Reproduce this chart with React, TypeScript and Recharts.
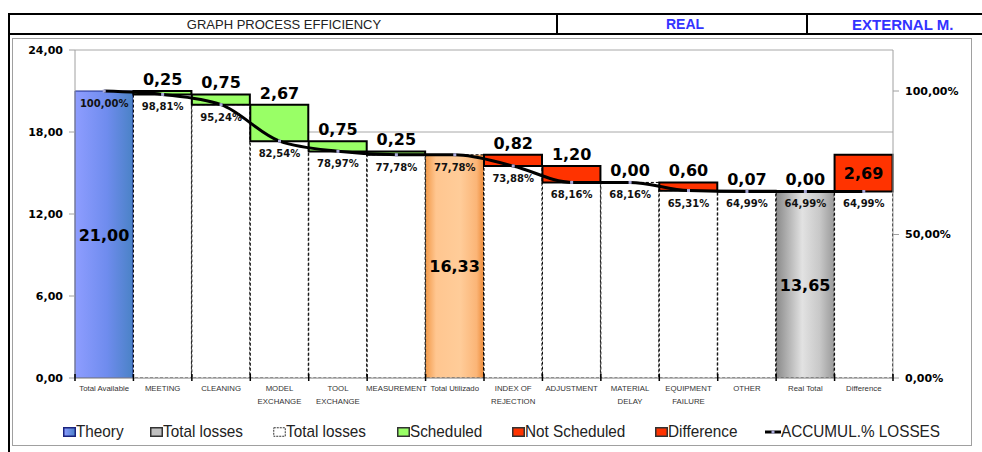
import React from 'react';
import { ComposedChart, Bar, Line, XAxis, YAxis, CartesianGrid, LabelList } from 'recharts';

// ---------- DATA ----------
const categories = [
  'Total Available', 'MEETING', 'CLEANING', 'MODEL\nEXCHANGE', 'TOOL\nEXCHANGE', 'MEASUREMENT',
  'Total Utilizado', 'INDEX OF\nREJECTION', 'ADJUSTMENT', 'MATERIAL\nDELAY', 'EQUIPMENT\nFAILURE',
  'OTHER', 'Real Total', 'Difference',
];
const theoryValues = [21.0, 0, 0, 0, 0, 0, 0, 0, 0, 0, 0, 0, 0, 0];
const utilizedValues = [0, 0, 0, 0, 0, 0, 16.33, 0, 0, 0, 0, 0, 0, 0];
const realTotalValues = [0, 0, 0, 0, 0, 0, 0, 0, 0, 0, 0, 0, 13.65, 0];
const baseLossValues = [0, 20.75, 20.0, 17.33, 16.58, 16.33, 0, 15.51, 14.31, 14.31, 13.71, 13.64, 0, 13.65];
const scheduledValues = [0, 0.25, 0.75, 2.67, 0.75, 0.25, 0, 0, 0, 0, 0, 0, 0, 0];
const notScheduledValues = [0, 0, 0, 0, 0, 0, 0, 0.82, 1.2, 0.0, 0.6, 0.07, 0, 0];
const differenceValues = [0, 0, 0, 0, 0, 0, 0, 0, 0, 0, 0, 0, 0, 2.69];
const accumLossPct = [100.0, 98.81, 95.24, 82.54, 78.97, 77.78, 77.78, 73.88, 68.16, 68.16, 65.31, 64.99, 64.99, 64.99];
const topLabelValues: (number | null)[] = [null, 0.25, 0.75, 2.67, 0.75, 0.25, null, 0.82, 1.2, 0.0, 0.6, 0.07, 0.0, null];
const leftTicks = [0, 6, 12, 18, 24];
const rightTicks = [0, 50, 100];

const data = categories.map((name, i) => ({
  name,
  theory: theoryValues[i],
  utilized: utilizedValues[i],
  realTotal: realTotalValues[i],
  base: baseLossValues[i],
  scheduled: scheduledValues[i],
  notScheduled: notScheduledValues[i],
  difference: differenceValues[i],
  pct: accumLossPct[i],
  top:
    theoryValues[i] + utilizedValues[i] + realTotalValues[i] + baseLossValues[i] +
    scheduledValues[i] + notScheduledValues[i] + differenceValues[i],
}));

// ---------- LAYOUT ----------
const W = 982;
const H = 452;
const PLOT_LEFT = 75;
const PLOT_RIGHT = 893;
const PLOT_TOP = 50;
const PLOT_BOTTOM = 378;
const LEFT_AXIS_W = 60;
const RIGHT_AXIS_W = 80;
const X_AXIS_H = 30;
const PLOT_W = PLOT_RIGHT - PLOT_LEFT;

const fmt = (v: number) => v.toFixed(2).replace('.', ',');
const VERDANA = 'DejaVu Sans, Verdana, sans-serif';
const ARIAL = '"Liberation Sans", Arial, sans-serif';

const getBox = (p: any) => {
  const vb = p.viewBox || {};
  return {
    x: vb.x ?? p.x ?? 0,
    y: vb.y ?? p.y ?? 0,
    width: vb.width ?? p.width ?? 0,
    height: vb.height ?? p.height ?? 0,
  };
};

const centerLabel = (props: any) => {
  let v = props.value;
  if (Array.isArray(v)) v = v[1] - v[0];
  v = Number(v);
  if (!v || !isFinite(v)) return null;
  const b = getBox(props);
  if (!b.height) return null;
  return (
    <text
      x={b.x + b.width / 2}
      y={b.y + b.height / 2 + 6}
      textAnchor="middle"
      fontFamily={VERDANA}
      fontWeight="bold"
      fontSize={16}
      fill="#000"
    >
      {fmt(v)}
    </text>
  );
};

const topLabel = (props: any) => {
  const { index } = props;
  const v = topLabelValues[index];
  if (v === null || v === undefined) return null;
  const b = getBox(props);
  return (
    <text x={b.x} y={b.y - 6} textAnchor="middle" fontFamily={VERDANA} fontWeight="bold" fontSize={16} fill="#000">
      {fmt(v)}
    </text>
  );
};

const pctLabel = (props: any) => {
  const { index } = props;
  const v = accumLossPct[index];
  const b = getBox(props);
  return (
    <text x={b.x} y={b.y + 16} textAnchor="middle" fontFamily={VERDANA} fontWeight="bold" fontSize={10} fill="#111">
      {fmt(v)}%
    </text>
  );
};

const XTick = (props: any) => {
  const { x, y, payload, index, visibleTicksCount } = props;
  const n = visibleTicksCount || categories.length;
  const bw = PLOT_W / n;
  const lines = String(payload.value).split('\n');
  return (
    <g>
      <line x1={x - bw / 2} x2={x - bw / 2} y1={y - 4} y2={y + 3} stroke="#000" strokeWidth={1.5} />
      {index === n - 1 && (
        <line x1={x + bw / 2} x2={x + bw / 2} y1={y - 4} y2={y + 3} stroke="#000" strokeWidth={1.5} />
      )}
      <text x={x} y={y + 13} textAnchor="middle" fontFamily={ARIAL} fontSize={7.8} fill="#333">
        {lines.map((l, i) => (
          <tspan key={i} x={x} dy={i === 0 ? 0 : 13}>
            {l}
          </tspan>
        ))}
      </text>
    </g>
  );
};

const SquareDot = (props: any) => {
  const { cx, cy, index } = props;
  if (cx == null || cy == null) return <g key={`d-${index}`} />;
  return <rect key={`d-${index}`} x={cx - 1.5} y={cy - 1.5} width={3} height={3} fill="#a8a8d8" />;
};

const legendItems = [
  { label: 'Theory', kind: 'theory', x: 63 },
  { label: 'Total losses', kind: 'gray', x: 150 },
  { label: 'Total losses', kind: 'white', x: 273 },
  { label: 'Scheduled', kind: 'green', x: 397 },
  { label: 'Not Scheduled', kind: 'red', x: 512 },
  { label: 'Difference', kind: 'red', x: 655 },
  { label: 'ACCUMUL.% LOSSES', kind: 'line', x: 765 },
];

const LegendIcon = ({ kind }: { kind: string }) => {
  if (kind === 'line') {
    return (
      <svg width={16} height={10} style={{ display: 'block' }}>
        <line x1={0} x2={16} y1={5} y2={5} stroke="#000" strokeWidth={3} />
        <rect x={6.5} y={3.5} width={3} height={3} fill="#a8a8d8" />
      </svg>
    );
  }
  const fills: Record<string, string> = {
    theory: 'url(#legBlue)',
    gray: '#c0c0c0',
    white: '#fff',
    green: '#99ff66',
    red: '#ff3300',
  };
  return (
    <svg width={13} height={10} style={{ display: 'block' }}>
      <defs>
        <linearGradient id="legBlue" x1="0" y1="0" x2="1" y2="0">
          <stop offset="0%" stopColor="#8c9cff" />
          <stop offset="100%" stopColor="#4a80c8" />
        </linearGradient>
      </defs>
      <rect
        x={0.75}
        y={0.75}
        width={11.5}
        height={8.5}
        fill={fills[kind]}
        stroke={kind === 'theory' ? '#1a237e' : '#333'}
        strokeWidth={kind === 'white' ? 1 : 1.5}
        strokeDasharray={kind === 'white' ? '2 1' : undefined}
      />
    </svg>
  );
};

export default function App() {
  return (
    <div style={{ position: 'absolute', left: 0, top: 0, width: W, height: H, background: '#fff', overflow: 'hidden' }}>
      {/* header */}
      <div
        style={{
          position: 'absolute', left: 8, top: 13, width: 550, height: 22, boxSizing: 'border-box',
          borderTop: '2px solid #000', borderBottom: '2px solid #000', borderLeft: '2px solid #000',
          display: 'flex', alignItems: 'center', justifyContent: 'center',
          fontFamily: ARIAL, fontSize: 13, color: '#222',
        }}
      >
        GRAPH PROCESS EFFICIENCY
      </div>
      <div
        style={{
          position: 'absolute', left: 556, top: 13, width: 252, height: 22, boxSizing: 'border-box',
          borderTop: '2px solid #000', borderBottom: '2px solid #000', borderLeft: '2px solid #000',
          display: 'flex', alignItems: 'center', justifyContent: 'center', paddingLeft: 4,
          fontFamily: ARIAL, fontSize: 14, fontWeight: 'bold', color: '#3333ff',
        }}
      >
        REAL
      </div>
      <div
        style={{
          position: 'absolute', left: 806, top: 13, width: 190, height: 22, boxSizing: 'border-box',
          borderTop: '2px solid #000', borderBottom: '2px solid #000', borderLeft: '2px solid #000',
          display: 'flex', alignItems: 'center', justifyContent: 'flex-start', paddingLeft: 44,
          fontFamily: ARIAL, fontSize: 15, fontWeight: 'bold', color: '#3333ff',
        }}
      >
        EXTERNAL M.
      </div>
      {/* frame */}
      <div style={{ position: 'absolute', left: 8, top: 35, width: 2, height: H - 35, background: '#000' }} />
      <div
        style={{
          position: 'absolute', left: 12, top: 38, width: 972 - 12, height: 446 - 38,
          boxSizing: 'border-box', border: '1px solid #a0a0a0',
        }}
      />

      <div style={{ position: 'absolute', left: 0, top: 0 }}>
        <ComposedChart
          width={W}
          height={H}
          data={data}
          barCategoryGap={0}
          barGap={0}
          margin={{
            top: PLOT_TOP,
            left: PLOT_LEFT - LEFT_AXIS_W,
            right: W - PLOT_RIGHT - RIGHT_AXIS_W,
            bottom: H - PLOT_BOTTOM - X_AXIS_H,
          }}
        >
          <defs>
            <linearGradient id="gradBlue" x1="0" y1="0" x2="1" y2="0">
              <stop offset="0%" stopColor="#8e9dff" />
              <stop offset="55%" stopColor="#6f8cee" />
              <stop offset="100%" stopColor="#4a82c6" />
            </linearGradient>
            <linearGradient id="gradOrange" x1="0" y1="0" x2="1" y2="0">
              <stop offset="0%" stopColor="#f29a4a" />
              <stop offset="18%" stopColor="#ffc690" />
              <stop offset="60%" stopColor="#ffcc99" />
              <stop offset="88%" stopColor="#fbb577" />
              <stop offset="100%" stopColor="#ee8c3a" />
            </linearGradient>
            <linearGradient id="gradGray" x1="0" y1="0" x2="1" y2="0">
              <stop offset="0%" stopColor="#8a8a8a" />
              <stop offset="45%" stopColor="#e2e2e2" />
              <stop offset="75%" stopColor="#c8c8c8" />
              <stop offset="100%" stopColor="#9a9a9a" />
            </linearGradient>
          </defs>
          <CartesianGrid yAxisId="left" vertical={false} stroke="#a8a8a8" strokeWidth={1} />
          <XAxis
            dataKey="name"
            interval={0}
            height={X_AXIS_H}
            tickLine={false}
            tickSize={0}
            tickMargin={0}
            axisLine={{ stroke: '#a0a0a0' }}
            tick={<XTick />}
          />
          <YAxis
            yAxisId="left"
            width={LEFT_AXIS_W}
            domain={[0, 24]}
            ticks={leftTicks}
            tickFormatter={(v: number) => fmt(v)}
            axisLine={{ stroke: '#a0a0a0' }}
            tickLine={{ stroke: '#a0a0a0' }}
            tickSize={6}
            tickMargin={6}
            tick={{ fontFamily: VERDANA, fontWeight: 'bold', fontSize: 11, fill: '#000' }}
            allowDataOverflow
          />
          <YAxis
            yAxisId="right"
            orientation="right"
            width={RIGHT_AXIS_W}
            domain={[0, 2400 / 21]}
            ticks={rightTicks}
            tickFormatter={(v: number) => `${fmt(v)}%`}
            axisLine={{ stroke: '#a0a0a0' }}
            tickLine={{ stroke: '#a0a0a0' }}
            tickSize={6}
            tickMargin={6}
            tick={{ fontFamily: VERDANA, fontWeight: 'bold', fontSize: 11, fill: '#000', textAnchor: 'start' }}
            allowDataOverflow
          />
          <Bar yAxisId="left" dataKey="theory" stackId="w" fill="url(#gradBlue)" stroke="#1a2a8a" strokeWidth={1} isAnimationActive={false}>
            <LabelList dataKey="theory" content={centerLabel} />
          </Bar>
          <Bar yAxisId="left" dataKey="utilized" stackId="w" fill="url(#gradOrange)" stroke="#000" strokeWidth={1} strokeDasharray="3 2" isAnimationActive={false}>
            <LabelList dataKey="utilized" content={centerLabel} />
          </Bar>
          <Bar yAxisId="left" dataKey="realTotal" stackId="w" fill="url(#gradGray)" stroke="#000" strokeWidth={1} strokeDasharray="3 2" isAnimationActive={false}>
            <LabelList dataKey="realTotal" content={centerLabel} />
          </Bar>
          <Bar yAxisId="left" dataKey="base" stackId="w" fill="#ffffff" stroke="#000" strokeWidth={1} strokeDasharray="3 2" isAnimationActive={false} />
          <Bar yAxisId="left" dataKey="scheduled" stackId="w" fill="#99ff66" stroke="#000" strokeWidth={2} isAnimationActive={false} />
          <Bar yAxisId="left" dataKey="notScheduled" stackId="w" fill="#ff3300" stroke="#000" strokeWidth={2} isAnimationActive={false} />
          <Bar yAxisId="left" dataKey="difference" stackId="w" fill="#ff3300" stroke="#000" strokeWidth={2} isAnimationActive={false}>
            <LabelList dataKey="difference" content={centerLabel} />
          </Bar>
          <Line
            yAxisId="left"
            dataKey="top"
            stroke="none"
            dot={false}
            activeDot={false}
            isAnimationActive={false}
            legendType="none"
          >
            <LabelList dataKey="top" content={topLabel} />
          </Line>
          <Line
            yAxisId="right"
            dataKey="pct"
            type="monotone"
            stroke="#000"
            strokeWidth={3}
            dot={<SquareDot />}
            activeDot={false}
            isAnimationActive={false}
          >
            <LabelList dataKey="pct" content={pctLabel} />
          </Line>
        </ComposedChart>
      </div>

      {/* legend */}
      {legendItems.map((it, i) => (
        <div
          key={i}
          style={{
            position: 'absolute', left: it.x, top: 421, height: 22, display: 'flex', alignItems: 'center',
            fontFamily: ARIAL, fontSize: 17, color: '#222', whiteSpace: 'nowrap',
          }}
        >
          <LegendIcon kind={it.kind} />
          <span style={{ display: 'inline-block', transform: 'scaleX(0.9)', transformOrigin: 'left center' }}>
            {it.label}
          </span>
        </div>
      ))}
    </div>
  );
}
